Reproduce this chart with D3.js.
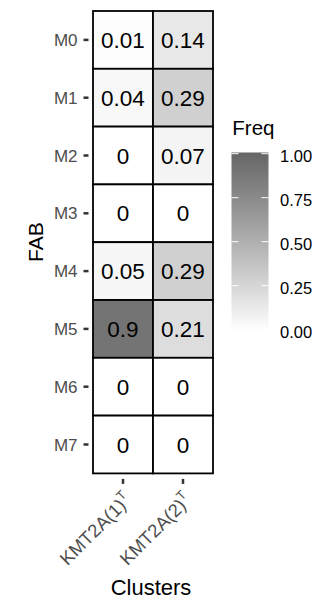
<!DOCTYPE html>
<html>
<head>
<meta charset="utf-8">
<script src="https://cdn.jsdelivr.net/npm/d3@7"></script>
<style>
  body { margin: 0; background: #fff; }
  text { font-family: "Liberation Sans", Arial, sans-serif; }
</style>
</head>
<body>
<svg id="chart"></svg>
<script>
const fab = ["M0", "M1", "M2", "M3", "M4", "M5", "M6", "M7"];
const clusters = ["KMT2A(1)", "KMT2A(2)"];
const clusterSup = ["T", "T"];
const freqK1 = [0.01, 0.04, 0, 0, 0.05, 0.9, 0, 0];
const freqK2 = [0.14, 0.29, 0.07, 0, 0.29, 0.21, 0, 0];
const legendTicks = [0, 0.25, 0.5, 0.75, 1];

const width = 322, height = 600;
const panel = {left: 93, right: 213, top: 11, bottom: 473.4};

const svg = d3.select("#chart")
    .attr("width", width)
    .attr("height", height);

// long format table
const cells = [];
fab.forEach((f, i) => {
    cells.push({fab: f, cluster: clusters[0], value: freqK1[i]});
    cells.push({fab: f, cluster: clusters[1], value: freqK2[i]});
});

const x = d3.scaleBand().domain(clusters).range([panel.left, panel.right]);
const y = d3.scaleBand().domain(fab).range([panel.top, panel.bottom]);
const color = d3.scaleLinear().domain([0, 1]).range(["#ffffff", "#666666"])
    .interpolate(d3.interpolateLab);

// tiles
const tiles = svg.append("g");
tiles.selectAll("rect")
    .data(cells)
    .join("rect")
    .attr("x", d => x(d.cluster))
    .attr("y", d => y(d.fab))
    .attr("width", x.bandwidth())
    .attr("height", y.bandwidth())
    .attr("fill", d => color(d.value))
    .attr("stroke", "black")
    .attr("stroke-width", 1.8);

tiles.selectAll("text")
    .data(cells)
    .join("text")
    .attr("x", d => x(d.cluster) + x.bandwidth() / 2)
    .attr("y", d => y(d.fab) + y.bandwidth() / 2)
    .attr("dy", "0.36em")
    .attr("text-anchor", "middle")
    .attr("font-size", 22.5)
    .attr("fill", "black")
    .text(d => d.value);

// y axis
const yAxis = svg.append("g");
yAxis.selectAll("line")
    .data(fab)
    .join("line")
    .attr("x1", panel.left - 9.5)
    .attr("x2", panel.left - 4.5)
    .attr("y1", d => y(d) + y.bandwidth() / 2)
    .attr("y2", d => y(d) + y.bandwidth() / 2)
    .attr("stroke", "#333")
    .attr("stroke-width", 2.5);
yAxis.selectAll("text")
    .data(fab)
    .join("text")
    .attr("x", panel.left - 15.5)
    .attr("y", d => y(d) + y.bandwidth() / 2)
    .attr("dy", "0.36em")
    .attr("text-anchor", "end")
    .attr("font-size", 17)
    .attr("fill", "#4d4d4d")
    .text(d => d);

// x axis
const xAxis = svg.append("g");
xAxis.selectAll("line")
    .data(clusters)
    .join("line")
    .attr("x1", d => x(d) + x.bandwidth() / 2)
    .attr("x2", d => x(d) + x.bandwidth() / 2)
    .attr("y1", panel.bottom + 5.5)
    .attr("y2", panel.bottom + 10.5)
    .attr("stroke", "#333")
    .attr("stroke-width", 2.5);
const xl = xAxis.selectAll("text")
    .data(clusters)
    .join("text")
    .attr("transform", d => `translate(${x(d) + x.bandwidth() / 2 + 5},${panel.bottom + 23}) rotate(-45)`)
    .attr("dy", "0.36em")
    .attr("text-anchor", "end")
    .attr("font-size", 18.5)
    .attr("fill", "#4d4d4d");
xl.append("tspan").text(d => d);
xl.append("tspan")
    .attr("font-size", 13)
    .attr("dy", "-0.6em")
    .text((d, i) => clusterSup[i]);

// axis titles
svg.append("text")
    .attr("transform", `translate(43,${(panel.top + panel.bottom) / 2}) rotate(-90)`)
    .attr("text-anchor", "middle")
    .attr("font-size", 21)
    .text("FAB");
svg.append("text")
    .attr("x", 151)
    .attr("y", 595)
    .attr("text-anchor", "middle")
    .attr("font-size", 22)
    .text("Clusters");

// legend
const lg = {x: 231.5, w: 37, top: 152.5, bottom: 331};
const ly = d3.scaleLinear().domain([0, 1]).range([329.7, 153.7]);
const defs = svg.append("defs");
const grad = defs.append("linearGradient")
    .attr("id", "freqGrad")
    .attr("x1", 0).attr("x2", 0).attr("y1", 1).attr("y2", 0);
grad.selectAll("stop")
    .data(d3.range(0, 1.0001, 0.1))
    .join("stop")
    .attr("offset", d => d)
    .attr("stop-color", d => color(d));

const legend = svg.append("g");
legend.append("text")
    .attr("x", 232.3)
    .attr("y", 135)
    .attr("font-size", 20.5)
    .text("Freq");
legend.append("rect")
    .attr("x", lg.x)
    .attr("y", lg.top)
    .attr("width", lg.w)
    .attr("height", lg.bottom - lg.top)
    .attr("fill", "url(#freqGrad)");
legend.selectAll(".tl")
    .data(legendTicks)
    .join("line")
    .attr("class", "tl")
    .attr("x1", lg.x)
    .attr("x2", lg.x + 7)
    .attr("y1", d => ly(d))
    .attr("y2", d => ly(d))
    .attr("stroke", "white")
    .attr("stroke-width", 1);
legend.selectAll(".tr")
    .data(legendTicks)
    .join("line")
    .attr("class", "tr")
    .attr("x1", lg.x + lg.w - 7)
    .attr("x2", lg.x + lg.w)
    .attr("y1", d => ly(d))
    .attr("y2", d => ly(d))
    .attr("stroke", "white")
    .attr("stroke-width", 1);
legend.selectAll(".lab")
    .data(legendTicks)
    .join("text")
    .attr("class", "lab")
    .attr("x", 280)
    .attr("y", d => ly(d) + 2)
    .attr("dy", "0.36em")
    .attr("font-size", 16.5)
    .attr("fill", "black")
    .text(d => d3.format(".2f")(d));
</script>
</body>
</html>
